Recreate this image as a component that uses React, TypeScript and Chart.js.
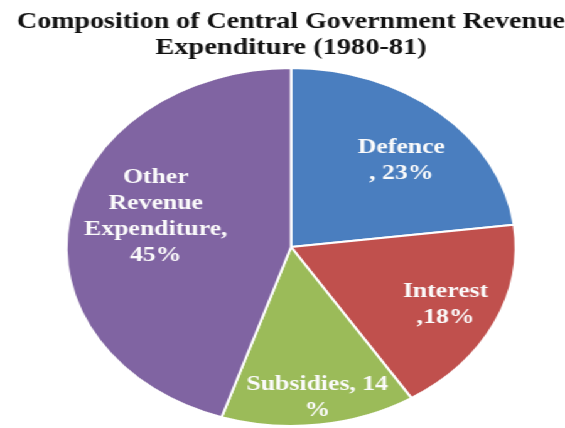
import React, { useEffect, useRef } from "react";
import { Chart, registerables } from "chart.js";

Chart.register(...registerables);

const categories = ["Defence", "Interest", "Subsidies", "Other Revenue Expenditure"];
const shares = [23, 18, 14, 45];
const labelLines = [
  ["Defence", ", 23%"],
  ["Interest", ",18%"],
  ["Subsidies, 14", "%"],
  ["Other", "Revenue", "Expenditure,", "45%"],
];
const titleLines = ["Composition of Central Government Revenue", "Expenditure (1980-81)"];
const sliceColors = ["#4a7ebf", "#c0504d", "#9bbb59", "#8064a2"];

// label placement: fraction of radius and angular nudge (degrees)
const labelRadius = [0.69, 0.76, 0.85, 0.625];
const labelNudge = [4, 0, -0.7, 6.6];

const STRETCH = 1.2556;

const sliceLabelPlugin = {
  id: "sliceLabels",
  afterDatasetsDraw(chart: any) {
    const ctx = chart.ctx;
    const meta = chart.getDatasetMeta(0);
    ctx.save();
    ctx.fillStyle = "#fbfbfb";
    ctx.font = "bold 20.5px 'Liberation Serif', serif";
    ctx.textAlign = "center";
    ctx.textBaseline = "middle";
    const lh = 26;
    meta.data.forEach((arc: any, i: number) => {
      const p = arc.getProps(["x", "y", "startAngle", "endAngle", "outerRadius"], true);
      const mid = (p.startAngle + p.endAngle) / 2 + (labelNudge[i] * Math.PI) / 180;
      const r = p.outerRadius * labelRadius[i];
      const cx = p.x + Math.cos(mid) * r;
      const cy = p.y + Math.sin(mid) * r;
      const lines = labelLines[i];
      const top = cy - ((lines.length - 1) * lh) / 2;
      lines.forEach((ln, k) => ctx.fillText(ln, cx, top + k * lh));
    });
    ctx.restore();
  },
};

export default function App() {
  const ref = useRef<HTMLCanvasElement | null>(null);
  useEffect(() => {
    if (!ref.current) return;
    const chart = new Chart(ref.current, {
      type: "pie",
      data: {
        labels: categories,
        datasets: [
          {
            data: shares,
            backgroundColor: sliceColors,
            borderColor: "#ffffff",
            borderWidth: 2,
          },
        ],
      },
      options: {
        animation: false,
        responsive: true,
        maintainAspectRatio: false,
        layout: { padding: { left: 13.6, right: 0, top: 0, bottom: 1 } },
        plugins: {
          legend: { display: false },
          tooltip: { enabled: false },
          title: {
            display: true,
            text: titleLines,
            color: "#111111",
            font: { family: "'Liberation Serif', serif", size: 22.6, weight: "bold", lineHeight: 1.12 },
            padding: { top: 10, bottom: 6.5 },
          },
        },
      },
      plugins: [sliceLabelPlugin],
    });
    return () => chart.destroy();
  }, []);
  return (
    <div
      style={{
        position: "fixed",
        left: 0,
        top: 0,
        width: 450,
        height: 428,
        background: "#ffffff",
        transform: `scaleX(${STRETCH})`,
        transformOrigin: "0 0",
      }}
    >
      <canvas ref={ref} />
    </div>
  );
}
